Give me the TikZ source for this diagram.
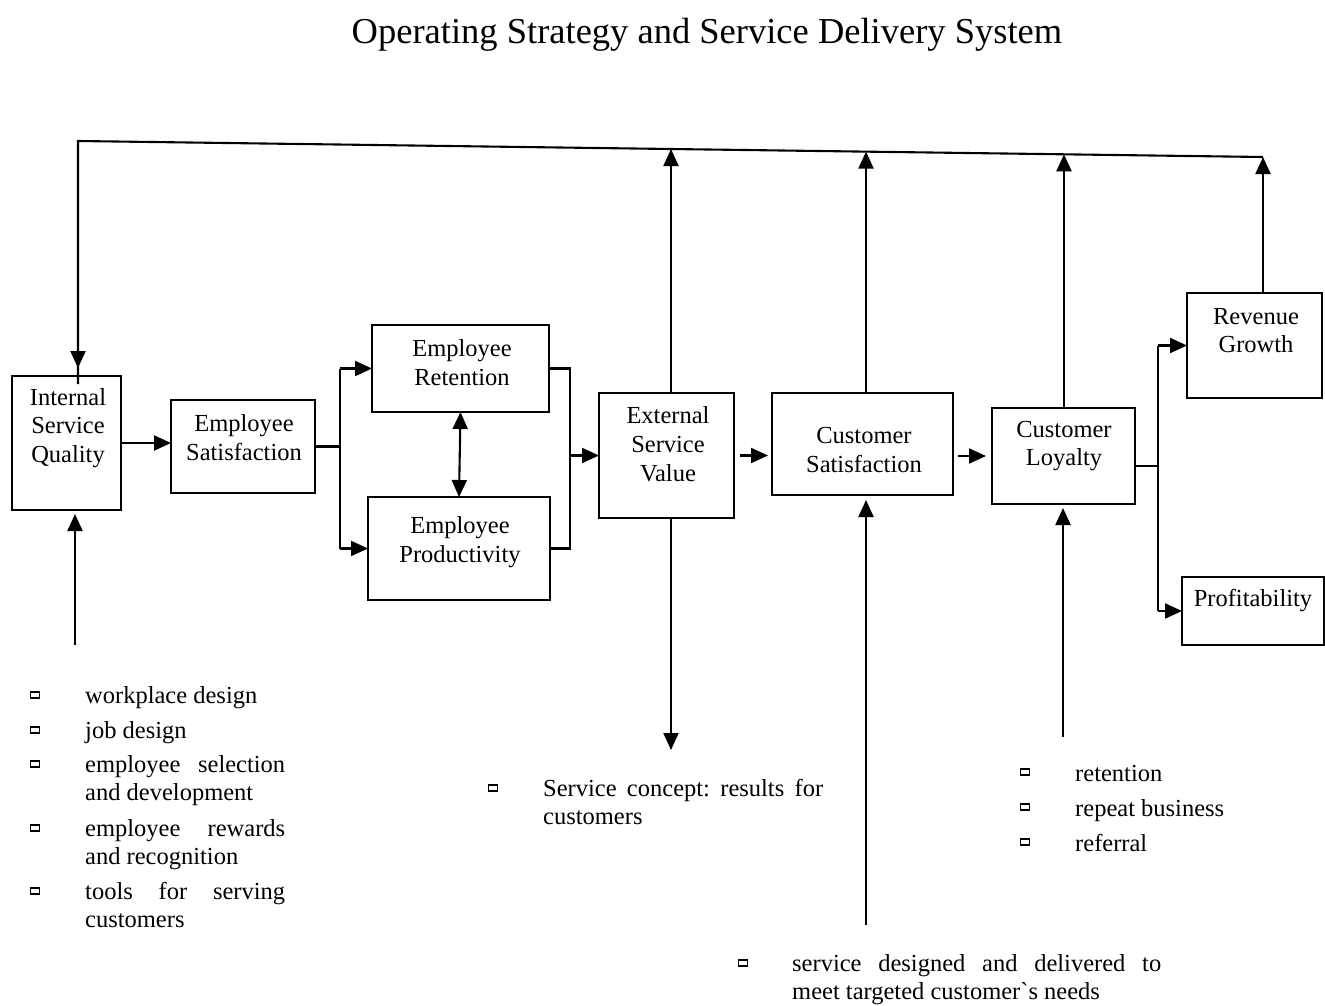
\documentclass[tikz,border=0pt]{standalone}
\usepackage{fontspec}
\setmainfont{Liberation Serif}
\newfontfamily\rawserif{Liberation Serif}[Ligatures=ResetAll]
\usetikzlibrary{arrows.meta}
\begin{document}
\begin{tikzpicture}[x=1pt,y=-1pt,
  box/.style={draw,line width=2.1pt,inner sep=0pt,outer sep=0pt},
  boxtext/.style={align=center,inner sep=0pt,font=\fontsize{24.5}{28.8}\selectfont},
  listtext/.style={anchor=base west,inner sep=0pt,font=\fontsize{24.5}{28.5}\selectfont},
  bulletbox/.style={draw,line width=1.2pt,minimum width=9pt,minimum height=6pt,inner sep=0pt},
  link/.style={line width=2.1pt},
  tip/.style={-{Triangle[length=17pt,width=15pt]}},
  both/.style={{Triangle[length=17pt,width=15pt]}-{Triangle[length=17pt,width=15pt]}}
]
\useasboundingbox (0,0) rectangle (1325,1006);

% title
\node[inner sep=0pt,font=\fontsize{36.5}{42}\selectfont] (title) at (707,35) {Operating Strategy and Service Delivery System};

% boxes
\node[box,minimum width=109pt,minimum height=134pt] (isq) at (66.5,443) {};
\node[boxtext] (isqt) at (68,428) {Internal\\Service\\Quality};
\node[box,minimum width=144pt,minimum height=93pt] (es) at (243,446.5) {};
\node[boxtext] (est) at (244,438) {Employee\\Satisfaction};
\node[box,minimum width=177pt,minimum height=87pt] (er) at (460.5,368.5) {};
\node[boxtext] (ert) at (462,363) {Employee\\Retention};
\node[box,minimum width=182pt,minimum height=103pt] (ep) at (459,548.5) {};
\node[boxtext] (ept) at (460,542.5) {Employee\\Productivity};
\node[box,minimum width=135pt,minimum height=125pt] (esv) at (666.5,455.5) {};
\node[boxtext] (esvt) at (668,444) {External\\Service\\Value};
\node[box,minimum width=181pt,minimum height=102pt] (cs) at (862.5,444) {};
\node[boxtext] (cst) at (864,450) {Customer\\Satisfaction};
\node[box,minimum width=143pt,minimum height=96pt] (cl) at (1063.5,456) {};
\node[boxtext] (clt) at (1064,446) {Customer\\Loyalty};
\node[box,minimum width=135pt,minimum height=105pt] (rg) at (1254.5,345.5) {};
\node[boxtext] (rgt) at (1256,330.5) {Revenue\\Growth};
\node[box,minimum width=142pt,minimum height=68pt] (pr) at (1253,611) {};
\node[boxtext] (prt) at (1253,601) {Profitability};

% junction columns
\coordinate (sx) at (340,0);
\coordinate (jx) at (570,0);
\coordinate (kx) at (1158,0);

% employee satisfaction fans out to retention and productivity
\draw[link] (es.east) -- (es.east -| sx);
\draw[link] (er.west -| sx) -- (ep.west -| sx);
\draw[link,tip] (er.west -| sx) -- (er.west);
\draw[link,tip] (ep.west -| sx) -- (ep.west);
\draw[link,both] (er.south) -- (ep.north);

% retention and productivity join into external service value
\draw[link] (er.east) -- (er.east -| jx) -- (ep.east -| jx) -- (ep.east);
\draw[link,tip] (esv.west -| jx) -- (esv.west);

% main chain
\draw[link,tip] (isq.east) -- (isq.east -| es.west);
\draw[link,tip,shorten <=6pt,shorten >=4pt] (esv.east) -- (esv.east -| cs.west);
\draw[link,tip,shorten <=5pt,shorten >=6pt] (cl.west -| cs.east) -- (cl.west);

% loyalty fans out to revenue growth and profitability
\draw[link] ([yshift=-10pt]cl.east) -- ([yshift=-10pt]cl.east -| kx);
\draw[link] (rg.west -| kx) -- (pr.west -| kx);
\draw[link,tip] (rg.west -| kx) -- (rg.west);
\draw[link,tip] (pr.west -| kx) -- (pr.west);

% feedback loop along the top
\coordinate (tl) at (78,141);
\coordinate (tr) at (1263,157);
\coordinate (t1) at (671,149);
\coordinate (t2) at (866,151.6);
\coordinate (t3) at (1064,154.3);
\draw[link,line join=miter] (tr) -- (tl) -- ([yshift=-8pt]tl |- isq.north);
\draw[link,tip,shorten >=8pt] (tl) -- (tl |- isq.north);
\draw[link,tip] (t1 |- esv.north) -- (t1);
\draw[link,tip] (t2 |- cs.north) -- (t2);
\draw[link,tip] (t3 |- cl.north) -- (t3);
\draw[link,tip] (tr |- rg.north) -- (tr);

% inputs from below
\coordinate (b1) at (75,645);
\coordinate (b2) at (671,750);
\coordinate (b3) at (866,925);
\coordinate (b4) at (1063,737);
\draw[link,tip,shorten >=4pt] (b1) -- (b1 |- isq.south);
\draw[link,tip] (b2 |- esv.south) -- (b2);
\draw[link,tip,shorten >=5pt] (b3) -- (b3 |- cs.south);
\draw[link,tip,shorten >=4pt] (b4) -- (b4 |- cl.south);

% internal service quality list
\node[bulletbox] (m1) at (35,695) {};
\node[listtext] (l1) at (85,703) {workplace design};
\node[bulletbox] (m2) at (35,730) {};
\node[listtext] (l2) at (85,738) {job design};
\node[bulletbox] (m3) at (35,764) {};
\node[listtext] (l3) at (85,772) {\parbox[t]{200pt}{employee\hfill selection\\and development}};
\node[bulletbox] (m4) at (35,828) {};
\node[listtext] (l4) at (85,836) {\parbox[t]{200pt}{employee\hfill rewards\\and recognition}};
\node[bulletbox] (m5) at (35,891) {};
\node[listtext] (l5) at (85,899) {\parbox[t]{200pt}{tools\hfill for\hfill serving\\customers}};

% external service value list
\node[bulletbox] (m6) at (493,788) {};
\node[listtext] (l6) at (543,796) {\parbox[t]{280pt}{Service\hfill concept:\hfill results\hfill for\\customers}};

% customer satisfaction list
\node[bulletbox] (m7) at (743,963) {};
\node[listtext] (l7) at (792,971) {\parbox[t]{369pt}{service\hfill designed\hfill and\hfill delivered\hfill to\\meet targeted customer{\rawserif`}s needs}};

% customer loyalty list
\node[bulletbox] (m8) at (1025,772) {};
\node[listtext] (l8) at (1075,781) {retention};
\node[bulletbox] (m9) at (1025,807) {};
\node[listtext] (l9) at (1075,816) {repeat business};
\node[bulletbox] (m10) at (1025,842) {};
\node[listtext] (l10) at (1075,851) {referral};
\end{tikzpicture}
\end{document}
